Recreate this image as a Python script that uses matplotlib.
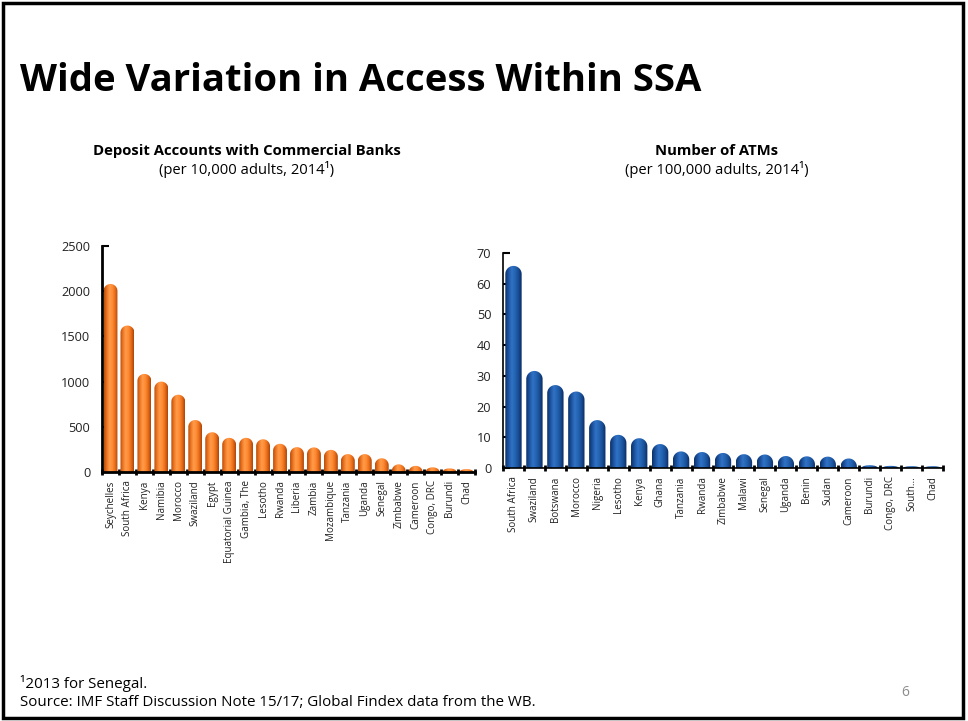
import numpy as np
import matplotlib
matplotlib.use("Agg")
import matplotlib.pyplot as plt
from matplotlib.colors import LinearSegmentedColormap
from matplotlib.patches import PathPatch, Rectangle
from matplotlib.path import Path

plt.rcParams['font.family'] = ['Open Sans', 'DejaVu Sans']

# Deposit accounts with commercial banks, per 10,000 adults
dep_countries = ['Seychelles', 'South Africa', 'Kenya', 'Namibia', 'Morocco', 'Swaziland',
                 'Egypt', 'Equatorial Guinea', 'Gambia, The', 'Lesotho', 'Rwanda', 'Liberia',
                 'Zambia', 'Mozambique', 'Tanzania', 'Uganda', 'Senegal', 'Zimbabwe',
                 'Cameroon', 'Congo, DRC', 'Burundi', 'Chad']
dep_values = [2080, 1620, 1085, 1000, 855, 575, 440, 378, 378, 362, 312, 275,
              272, 245, 198, 198, 152, 85, 68, 52, 40, 32]

# ATMs per 100,000 adults
atm_countries = ['South Africa', 'Swaziland', 'Botswana', 'Morocco', 'Nigeria', 'Lesotho',
                 'Kenya', 'Ghana', 'Tanzania', 'Rwanda', 'Zimbabwe', 'Malawi', 'Senegal',
                 'Uganda', 'Benin', 'Sudan', 'Cameroon', 'Burundi', 'Congo, DRC',
                 'South...', 'Chad']
atm_values = [65.8, 31.6, 27.0, 24.9, 15.6, 10.8, 9.7, 7.8, 5.4, 5.2, 4.9, 4.5, 4.4,
              3.9, 3.8, 3.7, 3.1, 0.9, 0.7, 0.6, 0.6]

W, H = 968, 721
fig = plt.figure(figsize=(W / 100, H / 100), dpi=100)


def fx(px):
    return px / W


def fy(py):
    return 1 - py / H


orange = LinearSegmentedColormap.from_list(
    'cyl_orange', ['#b84e0c', '#ec7420', '#ff9c4a', '#ff8c34', '#e86c1a', '#ab460a'])
blue = LinearSegmentedColormap.from_list(
    'cyl_blue', ['#0b3068', '#1c539e', '#3072c6', '#2464b2', '#184c94', '#092a5e'])


def cylinder_bars(ax, values, width, cmap):
    # bars with a rounded top and a horizontal shading gradient
    x = np.arange(len(values))
    bars = ax.bar(x, values, width, color='none', edgecolor='none')
    bb = ax.get_window_extent()
    x0, x1 = ax.get_xlim()
    y0, y1 = ax.get_ylim()
    ppx = bb.width / (x1 - x0)
    ppy = bb.height / (y1 - y0)
    grad = np.linspace(0, 1, 64).reshape(1, -1)
    theta = np.linspace(np.pi, 0, 40)
    for rect in bars:
        bx, bw, bh = rect.get_x(), rect.get_width(), rect.get_height()
        cap = min((bw / 2) * ppx / ppy, bh)
        xc = bx + bw / 2
        verts = [(bx, 0), (bx, bh - cap)]
        verts += list(zip(xc + bw / 2 * np.cos(theta), bh - cap + cap * np.sin(theta)))
        verts += [(bx + bw, 0), (bx, 0)]
        patch = PathPatch(Path(verts), facecolor='none', edgecolor='none',
                          transform=ax.transData)
        ax.add_patch(patch)
        im = ax.imshow(grad, extent=(bx, bx + bw, 0, bh), aspect='auto', cmap=cmap,
                       interpolation='bilinear', zorder=2)
        im.set_clip_path(patch)
    ax.set_xlim(x0, x1)
    ax.set_ylim(y0, y1)


def style_axes(ax, labels, spine_w):
    n = len(labels)
    ax.set_xlim(-0.5, n - 0.5)
    for s in ('top', 'right'):
        ax.spines[s].set_visible(False)
    for s in ('left', 'bottom'):
        ax.spines[s].set_linewidth(spine_w)
        ax.spines[s].set_color('black')
    ax.set_xticks(np.arange(n))
    ax.set_xticklabels(labels, rotation=90, fontsize=7.1, color='#222222')
    ax.tick_params(axis='x', which='major', length=0, pad=6)
    ax.set_xticks(np.arange(n + 1) - 0.5, minor=True)
    ax.tick_params(axis='x', which='minor', length=4, width=2, direction='inout')
    ax.tick_params(axis='y', direction='in', length=5, width=1.5, labelsize=9.2,
                   pad=8.5, labelcolor='#222222')
    ax.set_facecolor('none')


ax1 = fig.add_axes([fx(102), fy(472), fx(475 - 102), (472 - 246) / H])
ax1.set_ylim(0, 2500)
ax1.set_yticks(np.arange(0, 2501, 500))
style_axes(ax1, dep_countries, 2)
cylinder_bars(ax1, dep_values, 0.82, orange)

ax2 = fig.add_axes([fx(503), fy(468), fx(943 - 503), (468 - 253) / H])
ax2.set_ylim(0, 70)
ax2.set_yticks(np.arange(0, 71, 10))
style_axes(ax2, atm_countries, 1.2)
cylinder_bars(ax2, atm_values, 0.78, blue)

# slide frame and text
fig.patches.append(Rectangle((fx(3), fy(718)), fx(960), (718 - 3) / H, fill=False,
                             edgecolor='black', linewidth=2.5, transform=fig.transFigure))
fig.text(fx(20), fy(91), 'Wide Variation in Access Within SSA', fontsize=27.5,
         fontweight='bold', va='baseline', ha='left')
fig.text(fx(247), fy(151), 'Deposit Accounts with Commercial Banks', fontsize=10.7,
         fontweight='bold', ha='center', va='center')
fig.text(fx(247), fy(170), '(per 10,000 adults, 2014¹)', fontsize=10.6,
         ha='center', va='center')
fig.text(fx(717), fy(151), 'Number of ATMs', fontsize=10.7,
         fontweight='bold', ha='center', va='center')
fig.text(fx(717), fy(170), '(per 100,000 adults, 2014¹)', fontsize=10.6,
         ha='center', va='center')
fig.text(fx(20), fy(683), '¹2013 for Senegal.', fontsize=10.9, ha='left', va='center')
fig.text(fx(20), fy(703), 'Source: IMF Staff Discussion Note 15/17; Global Findex data from the WB.',
         fontsize=10.9, ha='left', va='center')
fig.text(fx(905), fy(693), '6', fontsize=10, color='#8c8c8c', ha='center', va='center')

fig.savefig('out.png', dpi=100)
